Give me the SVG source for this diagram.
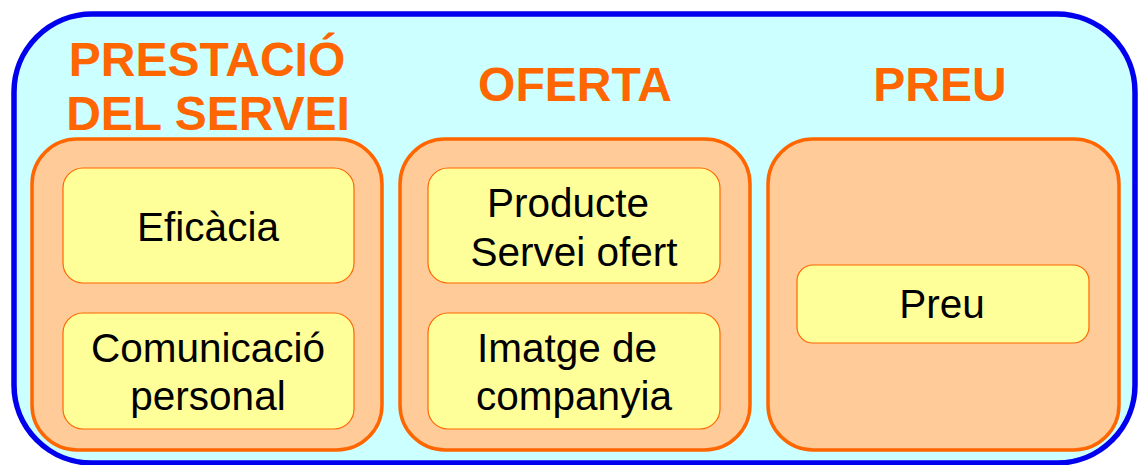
<svg xmlns="http://www.w3.org/2000/svg" width="1138" height="465" viewBox="0 0 1138 465">
<style>
.outer{fill:#CCFFFF;stroke:#0000EE;stroke-width:5.5}
.col{fill:#FFCC99;stroke:#FF6600;stroke-width:3.5}
.box{fill:#FFFF99;stroke:#FF6600;stroke-width:1.2}
.h{font-family:"Liberation Sans",Arial,sans-serif;font-weight:bold;font-size:48px;fill:#FF6600;text-anchor:middle}
.t{font-family:"Liberation Sans",Arial,sans-serif;font-size:40.5px;fill:#000;text-anchor:middle}
</style>
<rect class="outer" x="14" y="14" width="1121" height="449" rx="78" ry="78"/>
<g id="col-prestacio">
<text class="h" x="207" y="76">PRESTACIÓ</text>
<text class="h" x="208" y="130">DEL SERVEI</text>
<rect class="col" x="32" y="139" width="350" height="311" rx="45" ry="45"/>
</g>
<g id="col-oferta">
<text class="h" x="575" y="101">OFERTA</text>
<rect class="col" x="400" y="139" width="350" height="311" rx="45" ry="45"/>
</g>
<g id="col-preu">
<text class="h" x="940" y="101">PREU</text>
<rect class="col" x="768" y="139" width="351" height="311" rx="45" ry="45"/>
</g>
<g id="n-eficacia">
<rect class="box" x="63" y="168" width="291" height="115" rx="20" ry="20"/>
<text class="t" x="208" y="241">Eficàcia</text>
</g>
<g id="n-comunicacio">
<rect class="box" x="63" y="313" width="291" height="116" rx="20" ry="20"/>
<text class="t" x="208" y="362">Comunicació</text>
<text class="t" x="208" y="410">personal</text>
</g>
<g id="n-producte">
<rect class="box" x="428" y="168" width="292" height="115" rx="20" ry="20"/>
<text class="t" x="568" y="217">Producte</text>
<text class="t" x="574" y="266">Servei ofert</text>
</g>
<g id="n-imatge">
<rect class="box" x="428" y="313" width="292" height="116" rx="20" ry="20"/>
<text class="t" x="567" y="362">Imatge de</text>
<text class="t" x="574" y="410">companyia</text>
</g>
<g id="n-preu">
<rect class="box" x="797" y="265" width="292" height="78" rx="16" ry="16"/>
<text class="t" x="942" y="318">Preu</text>
</g>
<g id="connectors"/>
</svg>
